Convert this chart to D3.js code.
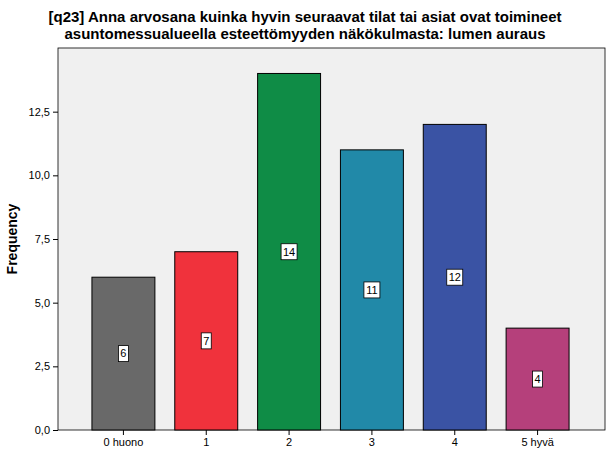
<!DOCTYPE html>
<html><head><meta charset="utf-8">
<script src="https://cdn.jsdelivr.net/npm/d3@7"></script>
<style>body{margin:0;background:#fff}svg{font-family:Arial,"Liberation Sans",sans-serif}</style>
</head><body>
<svg id="c" width="610" height="460"></svg>
<script>
const categories = ["0 huono","1","2","3","4","5 hyvä"];
const values = [6,7,14,11,12,4];
const colors = ["#696969","#f0323c","#0f8c46","#2189a8","#3a53a4","#b5407b"];
const yTicks = [0,2.5,5,7.5,10,12.5];
const yTickLabels = ["0,0","2,5","5,0","7,5","10,0","12,5"];
const titleLines = ["[q23] Anna arvosana kuinka hyvin seuraavat tilat tai asiat ovat toimineet","asuntomessualueella esteettömyyden näkökulmasta: lumen auraus"];

const svg = d3.select("#c");
const L=58,R=605,T=48,B=430;
const x = d3.scaleBand().domain(categories).range([82,579]).paddingInner(0.24).paddingOuter(0.12);
const y = d3.scaleLinear().domain([0,15]).range([B,T]);

svg.append("rect").attr("x",L).attr("y",T).attr("width",R-L).attr("height",B-T).attr("fill","#f0f0f0").attr("stroke","#000").attr("stroke-width",0.8);

svg.selectAll("text.t").data(titleLines).enter().append("text")
 .attr("x",305).attr("y",(d,i)=>22+i*17).attr("text-anchor","middle")
 .attr("font-size",15).attr("font-weight","bold").text(d=>d);

const ya = svg.append("g").attr("transform",`translate(${L},0)`)
 .call(d3.axisLeft(y).tickValues(yTicks).tickFormat((d,i)=>yTickLabels[i]).tickSizeOuter(0).tickSize(5));
ya.select(".domain").remove();
ya.selectAll("text").attr("font-size",11).attr("font-family","Arial,Liberation Sans");

const xa = svg.append("g").attr("transform",`translate(0,${B})`)
 .call(d3.axisBottom(x).tickSize(5).tickSizeOuter(0));
xa.select(".domain").remove();
xa.selectAll("text").attr("font-size",11).attr("font-family","Arial,Liberation Sans");

svg.append("text").attr("transform",`translate(17,${(T+B)/2}) rotate(-90)`)
 .attr("text-anchor","middle").attr("font-size",14).attr("font-weight","bold").text("Frequency");

svg.selectAll("rect.bar").data(values).enter().append("rect")
 .attr("x",(d,i)=>x(categories[i])).attr("width",x.bandwidth())
 .attr("y",d=>y(d)).attr("height",d=>B-y(d))
 .attr("fill",(d,i)=>colors[i]).attr("stroke","#000").attr("stroke-width",1);

const lab = svg.selectAll("g.lab").data(values).enter().append("g")
 .attr("transform",(d,i)=>`translate(${x(categories[i])+x.bandwidth()/2},${y(d/2)})`);
lab.append("rect").attr("x",d=>d>=10?-8:-5).attr("y",-8).attr("width",d=>d>=10?16:10).attr("height",16)
 .attr("fill","#fff").attr("stroke","#000").attr("stroke-width",0.8);
lab.append("text").attr("text-anchor","middle").attr("dy","0.35em").attr("font-size",11).text(d=>d);
</script>
</body></html>
